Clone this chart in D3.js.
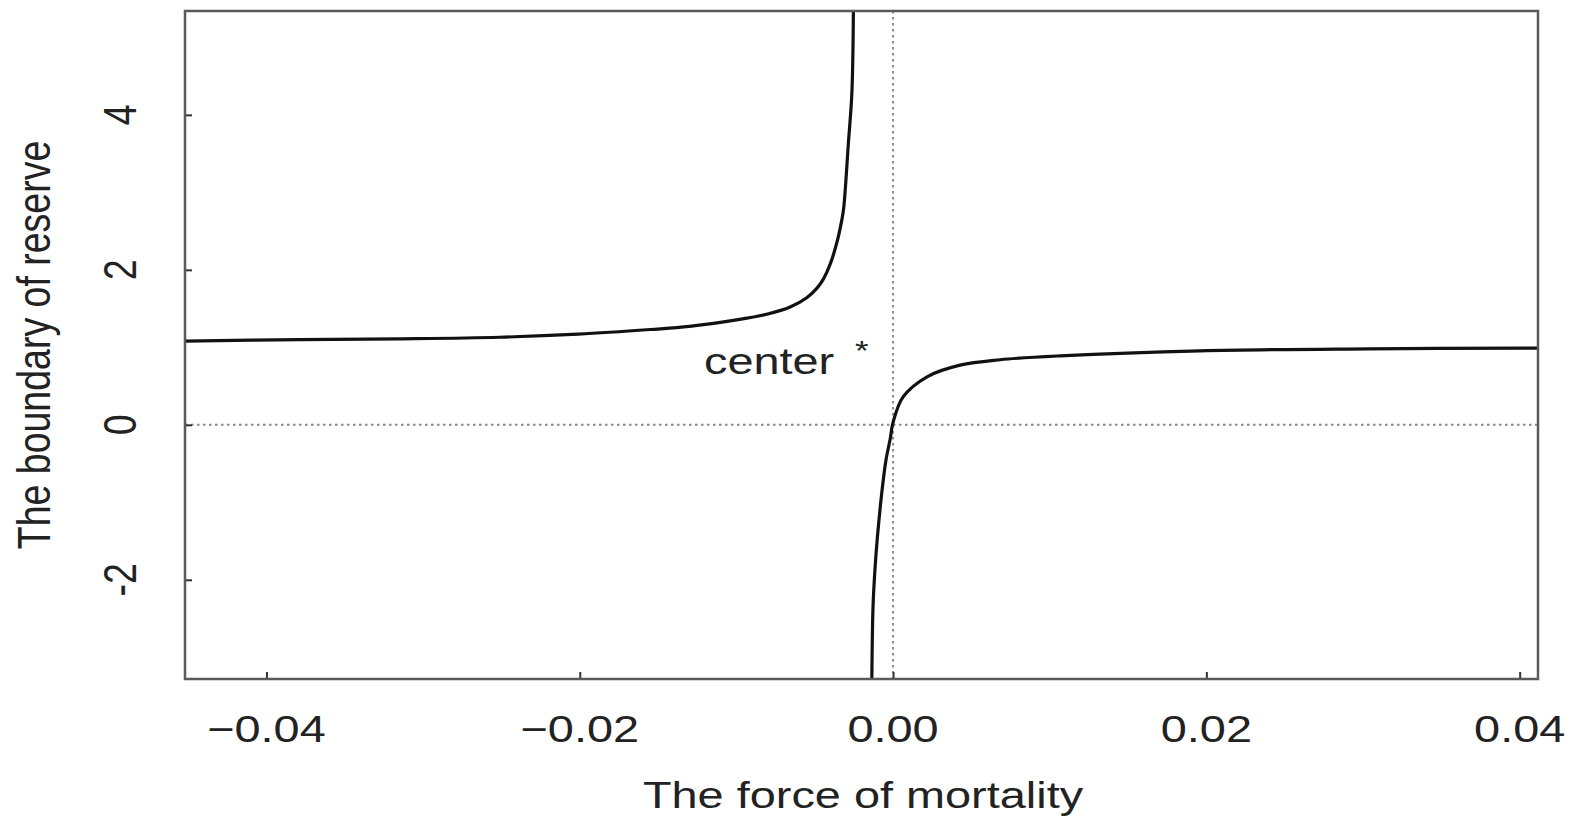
<!DOCTYPE html>
<html>
<head>
<meta charset="utf-8">
<script src="https://cdn.jsdelivr.net/npm/d3@7"></script>
<style>
  html, body { margin: 0; padding: 0; background: #fff; }
  svg text { font-family: "Liberation Sans", Arial, Helvetica, sans-serif; fill: #222; }
</style>
</head>
<body>
<svg id="chart" width="1572" height="816"></svg>
<script>
// ---- data ----
const xTicks = [-0.04, -0.02, 0.00, 0.02, 0.04];
const xTickLabels = ["\u22120.04", "\u22120.02", "0.00", "0.02", "0.04"];
const yTicks = [-2, 0, 2, 4];
const yTickLabels = ["-2", "0", "2", "4"];

// left branch (pole near x = -0.0025, rises to +inf)
const leftX = [-0.0452, -0.0379, -0.0315, -0.0251, -0.0201, -0.0155, -0.0130, -0.0098, -0.0080, -0.00657, -0.00551, -0.00487, -0.00445, -0.00402, -0.00359, -0.00327, -0.00315, -0.00285, -0.00263, -0.00253];
const leftY = [1.08, 1.10, 1.11, 1.13, 1.17, 1.23, 1.27, 1.36, 1.43, 1.52, 1.64, 1.76, 1.88, 2.07, 2.35, 2.645, 2.80, 3.64, 4.28, 5.40];

// right branch (comes from -inf, passes through origin)
const rightX = [-0.00136, -0.00128, -0.00115, -0.00100, -0.00070, -0.00045, -0.00019, 0.0000, 0.00064, 0.00217, 0.00428, 0.00683, 0.01066, 0.0196, 0.0304, 0.0412];
const rightY = [-3.40, -2.35, -1.85, -1.45, -0.84, -0.45, -0.19, 0.03, 0.36, 0.62, 0.77, 0.84, 0.89, 0.955, 0.98, 0.99];

const xDomain = [-0.0452, 0.04117];
const yDomain = [-3.28, 5.34];

const xTitle = "The force of mortality";
const yTitle = "The boundary of reserve";
const annotation = { x: -0.0122, y: 0.65, text: "center", star: "*", starX: -0.0020, starY: 0.84 };

// ---- layout ----
const L = 185, R = 1538, T = 11, B = 679;
const FS = 37.5, SX = 1.25;

const svg = d3.select("#chart");
const x = d3.scaleLinear().domain(xDomain).range([L, R]);
const y = d3.scaleLinear().domain(yDomain).range([B, T]);

svg.append("defs").append("clipPath").attr("id", "clip")
  .append("rect").attr("x", L).attr("y", T).attr("width", R - L).attr("height", B - T);

// reference dotted lines
svg.append("line")
  .attr("x1", L).attr("x2", R).attr("y1", y(0)).attr("y2", y(0))
  .attr("stroke", "#8a8a8a").attr("stroke-width", 2).attr("stroke-dasharray", "2.5,3.5");
svg.append("line")
  .attr("x1", x(0)).attr("x2", x(0)).attr("y1", T).attr("y2", B)
  .attr("stroke", "#8a8a8a").attr("stroke-width", 2).attr("stroke-dasharray", "2.5,3.5");

// curves
const line = d3.line().x(d => x(d[0])).y(d => y(d[1])).curve(d3.curveCatmullRom.alpha(0.5));
const g = svg.append("g").attr("clip-path", "url(#clip)");
g.append("path").datum(leftX.map((v, i) => [v, leftY[i]]))
  .attr("d", line).attr("fill", "none").attr("stroke", "#111").attr("stroke-width", 3.2)
  .attr("stroke-linejoin", "round");
g.append("path").datum(rightX.map((v, i) => [v, rightY[i]]))
  .attr("d", line).attr("fill", "none").attr("stroke", "#111").attr("stroke-width", 3.2)
  .attr("stroke-linejoin", "round");

// axes with inward ticks
const xAxis = d3.axisBottom(x).tickValues(xTicks).tickSize(-7).tickFormat("");
const yAxis = d3.axisLeft(y).tickValues(yTicks).tickSize(-7).tickFormat("");
const gx = svg.append("g").attr("transform", `translate(0,${B})`).call(xAxis);
const gy = svg.append("g").attr("transform", `translate(${L},0)`).call(yAxis);
[gx, gy].forEach(a => {
  a.select(".domain").remove();
  a.selectAll(".tick line").attr("stroke", "#333").attr("stroke-width", 2);
});

// frame
svg.append("rect").attr("x", L).attr("y", T).attr("width", R - L).attr("height", B - T)
  .attr("fill", "none").attr("stroke", "#5a5a5a").attr("stroke-width", 2.5);

// x tick labels
svg.append("g").selectAll("text").data(xTicks).join("text")
  .attr("transform", d => `translate(${x(d)},742) scale(${SX},1)`)
  .attr("text-anchor", "middle").attr("font-size", FS)
  .text((d, i) => xTickLabels[i]);

// y tick labels (rotated)
svg.append("g").selectAll("text").data(yTicks).join("text")
  .attr("transform", d => `translate(136,${y(d)}) scale(${SX},1) rotate(-90)`)
  .attr("text-anchor", "middle").attr("font-size", FS)
  .text((d, i) => yTickLabels[i]);

// titles
svg.append("text")
  .attr("transform", `translate(863,808) scale(${SX},1)`)
  .attr("text-anchor", "middle").attr("font-size", FS).text(xTitle);
svg.append("text")
  .attr("transform", `translate(50,345) scale(${SX},1) rotate(-90)`)
  .attr("text-anchor", "middle").attr("font-size", FS).text(yTitle);

// annotation
svg.append("text")
  .attr("transform", `translate(${x(annotation.x) + 2},${y(annotation.y)}) scale(${SX},1)`)
  .attr("text-anchor", "start").attr("font-size", FS).text(annotation.text);
svg.append("text")
  .attr("transform", `translate(${x(annotation.starX)},${y(annotation.starY)}) scale(${SX},1)`)
  .attr("text-anchor", "middle").attr("font-size", 28).text(annotation.star);
</script>
</body>
</html>
